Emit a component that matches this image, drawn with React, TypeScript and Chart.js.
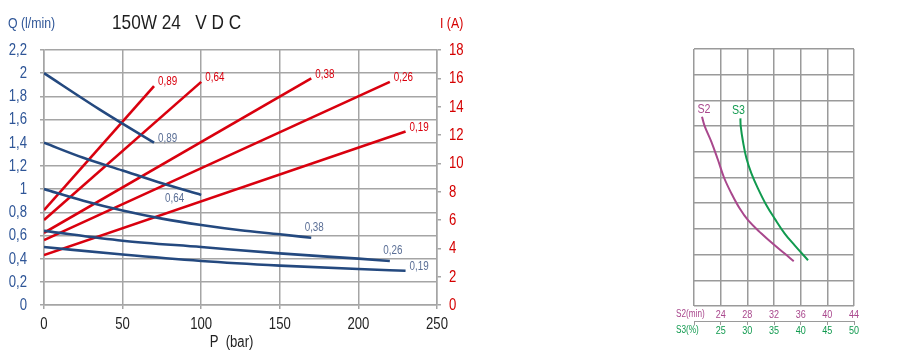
import React, { useEffect, useRef } from 'react';
import { Chart, registerables } from 'chart.js';

Chart.register(...registerables);

const FONT = "'Liberation Sans', Arial, sans-serif";
const NARROW = 0.82; // horizontal condensing of the text face

// ---------- main chart data ----------
const seriesNames = ['0,89', '0,64', '0,38', '0,26', '0,19'];

// Flow Q (l/min) vs pressure P (bar)
const flowP089 = [0, 35, 70];
const flowQ089 = [2.0, 1.69, 1.4];
const flowP064 = [0, 25, 50, 75, 100];
const flowQ064 = [1.4, 1.27, 1.16, 1.05, 0.95];
const flowP038 = [0, 25, 50, 75, 100, 125, 150, 170];
const flowQ038 = [1.0, 0.9, 0.815, 0.745, 0.69, 0.645, 0.61, 0.58];
const flowP026 = [0, 50, 100, 150, 200, 220];
const flowQ026 = [0.64, 0.555, 0.5, 0.445, 0.4, 0.38];
const flowP019 = [0, 50, 100, 150, 200, 230];
const flowQ019 = [0.5, 0.435, 0.38, 0.34, 0.31, 0.295];

// Current I (A) vs pressure P (bar)
const curP089 = [0, 70];
const curI089 = [6.7, 15.45];
const curP064 = [0, 100];
const curI064 = [6.0, 15.75];
const curP038 = [0, 170];
const curI038 = [5.1, 16.0];
const curP026 = [0, 220];
const curI026 = [4.58, 15.75];
const curP019 = [0, 230];
const curI019 = [3.52, 12.25];

const flowP = [flowP089, flowP064, flowP038, flowP026, flowP019];
const flowQ = [flowQ089, flowQ064, flowQ038, flowQ026, flowQ019];
const curP = [curP089, curP064, curP038, curP026, curP019];
const curI = [curI089, curI064, curI038, curI026, curI019];

// label placement (style, not data)
const flowLabelPlace = ['right', 'belowLeft', 'above', 'above', 'right'];
const curLabelPlace = ['right', 'right', 'right', 'right', 'right'];

// ---------- duty chart data ----------
const s2Minutes = [21.2, 21.6, 22.61, 23.6, 24.5, 25.61, 26.86, 28.1, 30.11, 32.1, 33.6, 34.96];
const s2Level = [7.36, 7.0, 6.39, 5.68, 5.0, 4.38, 3.79, 3.34, 2.82, 2.36, 2.04, 1.74];
const s3Percent = [28.7, 28.76, 29.19, 29.83, 30.76, 32.0, 33.58, 35.13, 37.01, 38.88, 41.38];
const s3Level = [7.3, 7.0, 6.39, 5.75, 5.16, 4.57, 3.92, 3.4, 2.82, 2.36, 1.78];

const BLUE = '#24497f';
const BLUE_TICK = '#2e5597';
const BLUE_LABEL = '#5b6f96';
const RED = '#d9000e';
const RED_TICK = '#d50000';
const GRID = '#a5a5a5';
const MAGENTA = '#a9488d';
const GREEN = '#119a4f';

const fmtComma = (v: number) =>
  Number.isInteger(Math.round(v * 1000) / 1000) ? String(Math.round(v)) : (Math.round(v * 10) / 10).toFixed(1).replace('.', ',');

const zip = (xs: number[], ys: number[]) => xs.map((x, i) => ({ x, y: ys[i] }));

// draw condensed text: align 'left' | 'center' | 'right', baseline given
function narrowText(
  ctx: CanvasRenderingContext2D,
  text: string,
  x: number,
  y: number,
  size: number,
  color: string,
  align: 'left' | 'center' | 'right' = 'left',
  baseline: CanvasTextBaseline = 'middle',
) {
  ctx.save();
  ctx.font = `${size}px ${FONT}`;
  ctx.fillStyle = color;
  ctx.textBaseline = baseline;
  ctx.textAlign = 'left';
  const w = ctx.measureText(text).width * NARROW;
  let left = x;
  if (align === 'center') left = x - w / 2;
  else if (align === 'right') left = x - w;
  ctx.translate(left, y);
  ctx.scale(NARROW, 1);
  ctx.fillText(text, 0, 0);
  ctx.restore();
}

const HIDDEN = 'rgba(0,0,0,0)';

export default function App() {
  const mainRef = useRef<HTMLCanvasElement | null>(null);
  const dutyRef = useRef<HTMLCanvasElement | null>(null);

  useEffect(() => {
    if (!mainRef.current || !dutyRef.current) return;

    const flowSets = flowP.map((p, i) => ({
      label: 'Q ' + seriesNames[i],
      data: zip(p, flowQ[i]),
      yAxisID: 'y',
      borderColor: BLUE,
      backgroundColor: BLUE,
      borderWidth: 2.6,
      pointRadius: 0,
      cubicInterpolationMode: 'monotone' as const,
      fill: false,
    }));
    const curSets = curP.map((p, i) => ({
      label: 'I ' + seriesNames[i],
      data: zip(p, curI[i]),
      yAxisID: 'y1',
      borderColor: RED,
      backgroundColor: RED,
      borderWidth: 2.6,
      pointRadius: 0,
      fill: false,
    }));

    const mainLabels = {
      id: 'mainLabels',
      afterDraw(chart: any) {
        const ctx = chart.ctx as CanvasRenderingContext2D;
        const ca = chart.chartArea;
        // end-of-line labels
        chart.data.datasets.forEach((ds: any, i: number) => {
          const meta = chart.getDatasetMeta(i);
          const pt = meta.data[meta.data.length - 1];
          if (!pt) return;
          const isFlow = i < flowSets.length;
          const idx = isFlow ? i : i - flowSets.length;
          const place = isFlow ? flowLabelPlace[idx] : curLabelPlace[idx];
          const col = isFlow ? BLUE_LABEL : RED;
          if (place === 'right') narrowText(ctx, seriesNames[idx], pt.x + 4, pt.y - 4, 12, col, 'left');
          else if (place === 'above') narrowText(ctx, seriesNames[idx], pt.x + 3, pt.y - 10, 12, col, 'center');
          else narrowText(ctx, seriesNames[idx], pt.x - 17, pt.y + 4, 12, col, 'right');
        });
        // tick labels
        const sx = chart.scales.x;
        sx.ticks.forEach((t: any) => {
          narrowText(ctx, String(t.value), sx.getPixelForValue(t.value), ca.bottom + 20, 16, '#222', 'center');
        });
        const sy = chart.scales.y;
        sy.ticks.forEach((t: any) => {
          narrowText(ctx, fmtComma(t.value), ca.left - 17, sy.getPixelForValue(t.value) + 0.5, 16, BLUE_TICK, 'right');
        });
        const sy1 = chart.scales.y1;
        sy1.ticks.forEach((t: any) => {
          narrowText(ctx, String(t.value), ca.right + 12, sy1.getPixelForValue(t.value) + 0.5, 16, RED_TICK, 'left');
        });
        // axis titles & header
        narrowText(ctx, 'P  (bar)', (ca.left + ca.right) / 2 - 9, ca.bottom + 37.5, 16, '#222', 'center');
        narrowText(ctx, 'Q (l/min)', 8, 28, 15, BLUE_TICK, 'left', 'alphabetic');
        narrowText(ctx, 'I (A)', ca.right + 3, 28, 15, RED_TICK, 'left', 'alphabetic');
        narrowText(ctx, '150W 24   V D C', 112, 29, 21, '#1e1e1e', 'left', 'alphabetic');
      },
    };

    const main = new Chart(mainRef.current, {
      type: 'line',
      data: { datasets: [...flowSets, ...curSets] as any },
      options: {
        responsive: false,
        animation: false,
        parsing: false as any,
        layout: { padding: { top: 50, left: 0, right: 0, bottom: 0 } },
        plugins: { legend: { display: false }, tooltip: { enabled: false }, title: { display: false } },
        scales: {
          x: {
            type: 'linear',
            min: 0,
            max: 250,
            ticks: { stepSize: 50, color: HIDDEN, font: { size: 16, family: FONT }, maxRotation: 0 },
            grid: { color: GRID, lineWidth: 1.5, tickLength: 4 },
            border: { display: true, color: GRID, width: 1.5 },
            afterFit: (s: any) => { s.height = 50; },
          },
          y: {
            type: 'linear',
            position: 'left',
            min: 0,
            max: 2.2,
            ticks: { stepSize: 0.2, color: HIDDEN, font: { size: 16, family: FONT } },
            grid: { color: GRID, lineWidth: 1.5, tickLength: 4 },
            border: { display: true, color: GRID, width: 1.5 },
            afterFit: (s: any) => { s.width = 44; },
          },
          y1: {
            type: 'linear',
            position: 'right',
            min: 0,
            max: 18,
            ticks: { stepSize: 2, color: HIDDEN, font: { size: 16, family: FONT } },
            grid: { drawOnChartArea: false, color: GRID, lineWidth: 1.5, tickLength: 4 },
            border: { display: true, color: GRID, width: 1.5 },
            afterFit: (s: any) => { s.width = 43; },
          },
        },
      },
      plugins: [mainLabels],
    });

    const dutyLabels = {
      id: 'dutyLabels',
      afterDraw(chart: any) {
        const ctx = chart.ctx as CanvasRenderingContext2D;
        const ca = chart.chartArea;
        const sx = chart.scales.x;
        const sx2 = chart.scales.x2;
        const y1 = ca.bottom + 8.5;
        const y2 = ca.bottom + 24.5;
        sx.ticks.forEach((t: any) => {
          if (t.value === sx.min) return;
          narrowText(ctx, String(t.value), sx.getPixelForValue(t.value), y1, 11, MAGENTA, 'center');
        });
        sx2.ticks.forEach((t: any) => {
          if (t.value === sx2.min) return;
          narrowText(ctx, String(t.value), sx2.getPixelForValue(t.value), y2, 11, GREEN, 'center');
        });
        narrowText(ctx, 'S2(min)', ca.left - 18, y1, 10, MAGENTA, 'left');
        narrowText(ctx, 'S3(%)', ca.left - 18, y2, 10, GREEN, 'left');
        const names = ['S2', 'S3'];
        const cols = [MAGENTA, GREEN];
        [0, 1].forEach((i) => {
          const pt = chart.getDatasetMeta(i).data[0];
          if (!pt) return;
          narrowText(ctx, names[i], pt.x + (i === 0 ? 2 : -2), pt.y - 4, 13, cols[i], 'center', 'alphabetic');
        });
      },
    };

    const duty = new Chart(dutyRef.current, {
      type: 'line',
      data: {
        datasets: [
          {
            label: 'S2',
            data: zip(s2Minutes, s2Level),
            xAxisID: 'x',
            borderColor: MAGENTA,
            borderWidth: 2,
            pointRadius: 0,
            tension: 0.4,
          },
          {
            label: 'S3',
            data: zip(s3Percent, s3Level),
            xAxisID: 'x2',
            borderColor: GREEN,
            borderWidth: 2,
            pointRadius: 0,
            tension: 0.4,
          },
        ] as any,
      },
      options: {
        responsive: false,
        animation: false,
        parsing: false as any,
        layout: { padding: { top: 49, left: 34, right: 64, bottom: 16 } },
        plugins: { legend: { display: false }, tooltip: { enabled: false } },
        scales: {
          x: {
            type: 'linear',
            position: 'bottom',
            min: 20,
            max: 44,
            weight: 0,
            ticks: { stepSize: 4, color: HIDDEN, font: { size: 10, family: FONT }, maxRotation: 0, autoSkip: false },
            grid: { color: '#9a9a9a', lineWidth: 1.5, drawTicks: false },
            border: { display: false },
            afterFit: (s: any) => { s.height = 15; },
          },
          x2: {
            type: 'linear',
            position: 'bottom',
            min: 20,
            max: 50,
            weight: 1,
            ticks: { stepSize: 5, color: HIDDEN, font: { size: 10, family: FONT }, maxRotation: 0, autoSkip: false },
            grid: { drawOnChartArea: false, drawTicks: true, tickLength: 4, color: '#9a9a9a', lineWidth: 1 },
            border: { display: true, color: '#9a9a9a', width: 1 },
            afterFit: (s: any) => { s.height = 18; },
          },
          y: {
            type: 'linear',
            min: 0,
            max: 10,
            ticks: { display: false, stepSize: 1 },
            grid: { color: '#9a9a9a', lineWidth: 1.5, drawTicks: false },
            border: { display: false },
          },
        },
      },
      plugins: [dutyLabels],
    });

    return () => {
      main.destroy();
      duty.destroy();
    };
  }, []);

  return (
    <div style={{ position: 'absolute', left: 0, top: 0, width: 918, height: 355, background: '#fff' }}>
      <canvas ref={mainRef} width={480} height={355} style={{ position: 'absolute', left: 0, top: 0, width: 480, height: 355 }} />
      <canvas ref={dutyRef} width={258} height={355} style={{ position: 'absolute', left: 660, top: 0, width: 258, height: 355 }} />
    </div>
  );
}
